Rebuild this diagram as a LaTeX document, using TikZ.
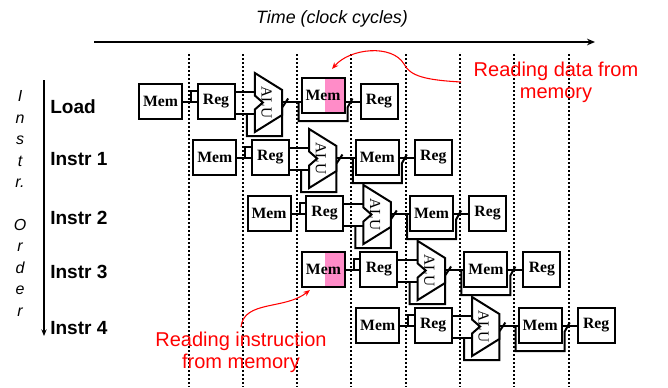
\documentclass[tikz,border=0pt]{standalone}
\usepackage{fontspec}
\setmainfont{Liberation Serif}
\setsansfont{Liberation Sans}
\usetikzlibrary{arrows.meta,calc}
\definecolor{PinkClr}{RGB}{255,140,200}
\definecolor{NoteClr}{RGB}{255,0,0}

\begin{document}
\begin{tikzpicture}[x=0.75pt,y=-0.75pt,
  wire/.style={line width=1.5pt},
  tick/.style={line width=1.5pt,dash pattern=on 1.5pt off 1.5pt},
  stagebox/.style={draw,line width=1.5pt,fill=white,inner sep=0pt,
    minimum height=26.25pt,font=\fontsize{11.8}{12}\selectfont\bfseries},
  membox/.style={stagebox,minimum width=32.25pt},
  regbox/.style={stagebox,minimum width=27.75pt},
  alubody/.style={minimum width=20.5pt,minimum height=44.25pt,inner sep=0pt,outer sep=0pt},
  alutext/.style={rotate=-90,inner sep=0pt,font=\fontsize{11.5}{12}\selectfont},
  plain/.style={},
  readhl/.style={path picture={\fill[PinkClr] ([xshift=-15pt]path picture bounding box.north east) rectangle (path picture bounding box.south east);}},
  rowlabel/.style={anchor=west,inner sep=0pt,font=\sffamily\bfseries\fontsize{14.3}{16}\selectfont},
  note/.style={NoteClr,align=center,font=\sffamily\fontsize{15}{16.5}\selectfont}]

\useasboundingbox (0,0) rectangle (668,387);

% time axis
\coordinate (t0) at (94,42);
\coordinate (t1) at (595,42);
\draw[line width=1.5pt,-{Stealth[length=6pt,width=5pt]}] (t0) -- (t1);
\node[font=\sffamily\itshape\fontsize{13.4}{16}\selectfont] (time) at (332,19) {Time (clock cycles)};

% clock edges
\foreach \k in {0,...,7}
  \draw[tick] (188.5+54.3*\k,54) -- ++(0,333);

% instruction order
\coordinate (o0) at (44,80);
\coordinate (o1) at (44,336);
\draw[line width=1.5pt,-{Stealth[length=5pt,width=4pt]}] (o0) -- (o1);
\node[font=\sffamily\itshape\fontsize{12}{16.1}\selectfont,align=center,inner sep=0pt] (order) at (20,203.5)
  {I\\n\\s\\t\\r.\\[16.1pt]O\\r\\d\\e\\r};

% pipeline rows
\foreach \i/\lbl/\ly/\fst/\dst/\dy in {0/Load/107/plain/readhl/-6,
    1/Instr 1/159/plain/plain/0, 2/Instr 2/218/plain/plain/0,
    3/Instr 3/272/readhl/plain/0, 4/Instr 4/328/plain/plain/0}{
  \pgfmathsetmacro\X{139+54.3*\i}
  \pgfmathsetmacro\Y{101.5+56*\i}
  \node[rowlabel] (lab\i) at (50,\ly) {\lbl};
  \node[membox,\fst] (if\i) at (\X+21.5,\Y) {Mem};
  \node[regbox] (id\i) at (\X+77,\Y) {Reg};
  \node[alubody] (alu\i) at (\X+129.5,\Y+1) {};
  \node[membox,\dst] (dm\i) at (\X+184,\Y+\dy) {Mem};
  \node[regbox] (wb\i) at (\X+240,\Y) {Reg};
  % fetch -> decode
  \draw[wire] (if\i.east) -- (id\i.west);
  \draw[wire] ($(if\i.east)+(8,0)$) |- ($(id\i.west)+(0,-11)$);
  % decode -> alu
  \draw[wire] ($(id\i.east)+(0,-10)$) -- ($(alu\i.west)+(0,-11)$);
  \draw[wire] ($(id\i.east)+(0,12)$) -- ($(alu\i.west)+(0,11)$);
  \draw[wire] ($(alu\i.west)+(-8,11)$) |- ($(alu\i.south east)+(0,4)$)
    -- ($(alu\i.east)+(0,5)$) -- ($(alu\i.east)+(6,-4)$);
  \draw[wire,fill=white] (alu\i.north west) -- ($(alu\i.east)+(0,-12.5)$)
    -- ($(alu\i.east)+(0,12.5)$) -- (alu\i.south west) -- ($(alu\i.west)+(0,7)$)
    -- ($(alu\i.west)+(8,0)$) -- ($(alu\i.west)+(0,-7)$) -- cycle;
  \node[alutext] (aluT\i) at ($(alu\i.center)+(-2,0)$) {ALU};
  % alu -> memory -> write back
  \draw[wire] (alu\i.east |- if\i.east) -- (dm\i.west |- if\i.east);
  \draw[wire] ($(dm\i.west |- if\i.east)+(-2,0)$) |- ($(dm\i.south east)+(2,7)$)
    -- ($(dm\i.east |- if\i.east)+(2,6)$) -- ($(dm\i.east |- if\i.east)+(7,-3)$);
  \draw[wire] (dm\i.east |- if\i.east) -- (wb\i.west);
}

% notes
\node[note] (dnote) at (556,82) {Reading data from\\memory};
\draw[NoteClr,line width=0.8pt,-{Stealth[length=5pt,width=4pt]}] ($(dnote.west)+(-8,0)$)
  .. controls (425,80) and (410,76) .. (404,64)
  .. controls (392,44) and (350,48) .. ($(dm0.north)+(9,-8)$);
\node[note] (inote) at (241,352) {Reading instruction\\from memory};
\draw[NoteClr,line width=0.8pt,-{Stealth[length=5pt,width=4pt]}] (inote.north)
  .. controls (244,300) and (285,310) .. ($(if3.south west)+(9,2)$);

\end{tikzpicture}
\end{document}
